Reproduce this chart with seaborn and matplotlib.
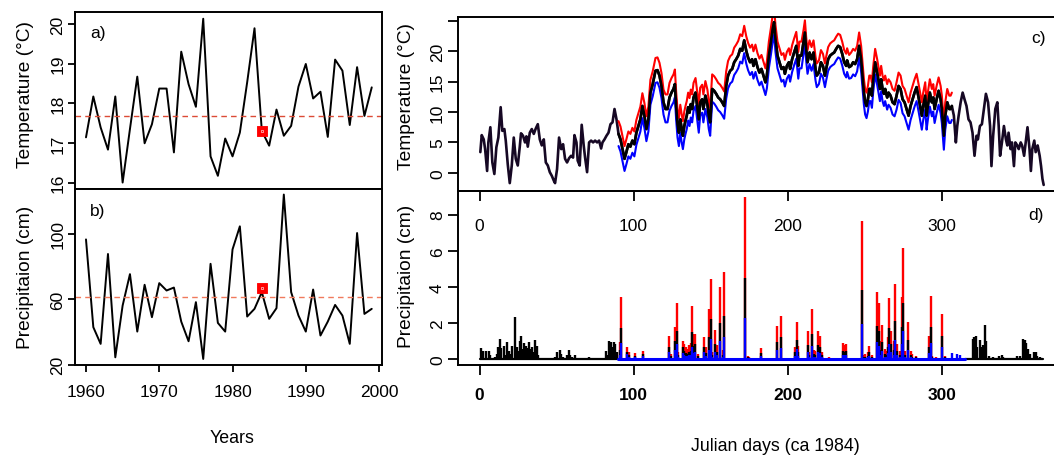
import numpy as np
import pandas as pd
import matplotlib
matplotlib.use("Agg")
import matplotlib.pyplot as plt
import seaborn as sns

# ---------------- data: annual series (panels a, b) ----------------
years = list(range(1960, 2000))
temp_annual = [17.14, 18.17, 17.39, 16.83, 18.17, 16.00, 17.35, 18.67, 16.99, 17.47,
               18.37, 18.37, 16.76, 19.30, 18.48, 17.91, 20.13, 16.66, 16.17, 17.11,
               16.66, 17.26, 18.53, 19.89, 17.30, 16.93, 17.84, 17.18, 17.43, 18.42,
               18.99, 18.12, 18.29, 17.15, 19.10, 18.82, 17.45, 18.91, 17.68, 18.40]
precip_annual = [96.5, 42.9, 32.7, 87.6, 24.5, 56.1, 75.3, 40.2, 68.8, 49.0,
                 69.8, 65.3, 67.1, 46.3, 34.3, 58.2, 23.5, 81.6, 45.5, 40.2,
                 90.4, 104.5, 49.4, 54.1, 64.3, 48.0, 54.5, 123.9, 64.3, 50.0,
                 40.2, 65.9, 37.8, 46.3, 56.5, 50.0, 32.7, 100.4, 51.0, 54.1]
temp_mean_line = 17.67
precip_mean_line = 61.2
focus_year = 1984
focus_temp = 17.30
focus_precip = 66.9

# ---------------- data: daily temperature 1984 (panel c) ----------------
temp_day = [0.5, 1.4, 2.7, 3.6, 4.9, 5.7, 7.0, 8.3, 9.6, 10.9, 12.2, 13.7, 14.8, 16.1, 17.0,
            18.3, 19.6, 20.9, 22.2, 23.5, 24.8, 26.1, 26.9, 28.2, 29.5, 30.4, 31.3, 32.6,
            33.9, 35.2, 36.5, 37.8, 39.1, 40.4, 41.7, 43.0, 44.3, 45.6, 46.9, 48.2, 49.0,
            50.3, 51.6, 53.0, 54.2, 55.5, 56.8, 58.1, 59.4, 60.7, 61.6, 62.9, 63.7, 65.0,
            66.3, 67.6, 68.5, 69.8, 71.1, 72.4, 73.7, 75.0, 76.3, 77.6, 78.9, 79.8, 81.1,
            82.4, 83.7, 85.0, 86.3, 87.6, 88.9, 90.2, 91.5, 92.8, 94.1, 95.3, 96.6, 97.9,
            99.2, 100.5, 101.8, 103.1, 104.4, 105.7, 107.0, 108.3, 109.6, 110.9,
            112.4, 114.2, 115.5, 116.8, 118.1, 119.4, 120.7, 122.0, 123.3, 124.6, 125.9,
            126.8, 127.6, 128.5, 129.4, 130.3, 131.2, 132.0, 132.9, 133.7, 134.5, 135.4,
            136.3, 137.1, 138.0, 138.9, 140.2, 141.5, 142.3, 143.2, 144.5, 145.3, 146.6,
            147.9, 148.8, 149.7, 151.0, 152.3, 153.6, 154.9, 156.2, 157.5, 158.8, 160.1,
            161.3, 162.7, 164.0, 165.3, 166.6, 167.9, 169.2, 170.5, 171.8, 173.1, 174.3,
            175.6, 176.9, 177.8, 179.1, 180.4, 181.7, 183.0, 184.3, 185.6, 186.5, 187.8,
            189.1, 190.3, 191.2, 192.1, 193.4, 194.7, 196.0, 197.3, 198.2, 199.5, 200.8,
            201.6, 202.9, 204.2, 205.6, 206.9, 207.7, 209.0, 210.3, 211.2, 212.0, 212.9,
            214.2, 215.5, 216.8, 218.1, 218.9, 220.3, 221.6, 222.9, 224.2, 225.0, 226.3,
            227.6, 229.0, 230.2, 231.5, 232.8, 234.1, 235.4, 236.7, 238.0,
            238.6, 239.9, 241.2, 242.5, 243.8, 245.1, 246.4, 247.7, 248.6, 249.5, 250.3,
            251.2, 252.1, 253.0, 253.8, 254.7, 255.5, 256.8, 258.1, 259.0, 259.9, 260.7,
            261.6, 262.5, 263.3, 264.6, 265.5, 266.8, 268.1, 269.4, 270.7, 272.0, 273.3,
            274.6, 275.9, 277.2, 278.5, 279.8, 281.1, 282.4, 283.7, 285.0, 286.3, 287.1,
            288.0, 289.3, 290.2, 291.0, 292.3, 293.6, 294.5, 295.4, 296.7, 298.0, 299.3,
            300.1, 301.4, 302.3, 303.6, 304.9, 305.8, 306.6, 307.9, 309.2, 310.1, 311.0,
            312.3, 313.6, 314.8, 316.1, 317.4, 318.7, 320.0, 321.3, 322.6, 323.5, 324.8,
            326.1, 327.4, 328.7, 330.1, 331.4, 332.3, 333.4, 334.8, 336.1, 337.0, 337.9,
            339.1, 340.4, 341.7, 342.6, 343.4, 344.7, 345.6, 346.9, 347.8, 349.1, 350.0,
            351.3, 352.2, 353.5, 354.8, 355.7, 357.0, 357.9, 358.8, 360.1, 361.0, 362.3,
            363.6, 364.5, 365.4, 366.2]
temp_obs = [3.4, 6.2, 5.5, 3.9, 0.3, 5.0, 7.5, 1.7, -0.2, 4.2, 5.8, 10.8, 6.9, 7.2, 5.3,
            1.4, -1.7, 1.2, 5.8, 2.3, 1.2, 4.3, 6.5, 6.1, 5.0, 6.0, 4.3, 6.6,
            7.2, 6.4, 7.3, 8.0, 5.5, 4.5, 5.5, 1.7, 1.2, 0.1, -0.5, -1.3, -1.7,
            0.6, 5.8, 3.9, 4.7, 2.3, 1.7, 2.4, 2.8, 2.5, 6.2, 5.0, 2.0, 1.2,
            7.9, 4.5, 2.5, 0.1, 5.0, 5.3, 5.0, 5.3, 5.0, 5.3, 4.0, 5.0, 5.5,
            6.1, 6.6, 8.0, 8.3, 10.5, 8.8, 6.4, 5.5, 3.9, 2.3, 3.4, 4.7, 4.3,
            5.3, 4.7, 6.6, 7.7, 8.8, 11.0, 9.4, 7.2, 8.8, 13.2,
            14.6, 16.8, 16.9, 16.0, 14.3, 11.6, 10.5, 10.5, 12.4, 13.2, 13.8,
            14.6, 11.0, 8.0, 6.6, 8.8, 7.2, 6.1, 7.7, 8.6, 9.4, 10.8,
            9.9, 11.3, 10.5, 12.4, 13.2, 10.5, 8.8, 11.6, 12.1, 10.5, 12.7,
            11.3, 9.4, 8.3, 13.8, 13.5, 13.0, 12.4, 12.1, 11.6, 11.0, 14.3,
            16.0, 16.8, 17.1, 18.2, 18.7, 19.3, 20.4, 20.1, 21.8, 20.1, 19.0,
            18.2, 18.7, 17.6, 18.7, 17.4, 16.5, 17.1, 16.0, 14.9, 16.0, 19.3,
            21.5, 23.7, 24.8, 22.0, 19.3, 18.2, 17.1, 17.4, 16.3, 17.6, 18.2,
            17.1, 18.7, 19.8, 20.9, 17.6, 19.3, 19.3, 21.5, 23.1, 20.4, 18.2,
            19.8, 18.7, 19.8, 17.1, 16.0, 16.5, 18.2, 17.6, 16.0, 17.1, 18.7,
            19.3, 19.6, 19.8, 20.4, 20.9, 20.7, 19.6, 18.2, 17.6,
            18.5, 17.4, 17.6, 18.2, 17.9, 18.7, 20.9, 18.7, 16.0, 13.2, 11.6,
            11.0, 12.1, 13.8, 13.8, 12.7, 15.2, 18.2, 16.5, 15.2, 13.8, 15.4,
            13.8, 13.0, 13.8, 12.4, 13.2, 12.7, 11.6, 11.3, 12.7, 14.3, 13.8,
            12.1, 11.6, 10.5, 9.4, 11.0, 12.1, 13.2, 14.1, 12.4, 10.5, 9.4,
            11.0, 12.7, 9.4, 11.0, 13.2, 11.6, 12.4, 10.5, 12.1, 13.5, 12.1,
            10.5, 6.1, 9.4, 11.6, 10.5, 10.5, 11.0, 9.4, 5.0, 7.7, 9.4,
            11.6, 13.2, 12.1, 11.0, 8.8, 8.3, 6.6, 2.8, 6.1, 5.5, 7.7,
            8.0, 10.5, 13.0, 11.6, 7.7, 1.1, 6.1, 10.5, 11.6, 7.7, 2.8,
            5.0, 7.7, 5.5, 4.5, 6.6, 3.9, 5.0, 1.1, 5.0, 4.5, 3.9,
            5.0, 4.5, 2.8, 5.5, 7.5, 3.9, 0.3, 3.9, 5.3, 3.4, 4.5,
            2.8, 1.1, -1.0, -2.0]
# scenario window and shifts read from the red / blue curves
temp_scen_first = 90.0
temp_scen_last = 306.6
shift_seg_start = [90, 120, 150, 180, 210, 240, 270]
warm_shift = [2.1, 2.4, 2.4, 2.3, 2.0, 2.2, 2.2]
cool_shift = [-2.0, -2.2, -2.1, -2.1, -1.9, -2.0, -2.3]

# ---------------- data: daily precipitation 1984 (panel d) ----------------
prcp_day_obs = [1, 2, 4, 6, 7, 10, 11, 12, 13, 14, 16, 17, 18, 19, 20, 21, 23, 24, 25, 26,
                27, 28, 29, 30, 31, 32, 33, 34, 35, 36, 37, 38, 49, 50, 52, 53, 54, 57, 58,
                59, 60, 62, 71, 82, 83, 84, 85, 86, 87, 88, 89,
                320, 321, 322, 323, 325, 326, 327, 328, 329, 331, 333, 337, 339, 340,
                349, 351, 353, 354, 355, 356, 357, 360, 361, 362, 364]
prcp_obs = [0.60, 0.45, 0.43, 0.43, 0.24, 0.13, 0.30, 0.65, 1.10, 0.60, 0.75, 0.20, 0.93,
            0.45, 0.30, 0.70, 2.35, 0.65, 0.45, 1.00, 1.25, 0.55, 0.90, 0.72, 0.60, 0.93,
            0.55, 0.65, 0.37, 1.05, 0.70, 0.20, 0.13, 0.37, 0.52, 0.30, 0.13, 0.24, 0.52,
            0.24, 0.13, 0.24, 0.09, 0.45, 0.24, 1.00, 0.93, 0.65, 0.93, 0.83, 0.37,
            1.10, 1.24, 1.30, 0.69, 1.06, 0.65, 0.80, 1.89, 1.02, 0.19, 0.09, 0.19, 0.24,
            0.13, 0.19, 0.19, 1.10, 1.07, 0.87, 0.56, 0.28, 0.37, 0.37, 0.19, 0.09]
prcp_day_scen = [91, 92, 96, 97, 101, 106, 123, 124, 127, 128, 129, 132, 133, 134, 135,
                 136, 137, 138, 139, 140, 142, 146, 147, 149, 150, 151, 153, 154, 156, 158,
                 159, 172, 174, 175, 183, 193, 196, 205, 206, 207, 213, 214, 216, 217, 218,
                 220, 221, 222, 227, 236, 237, 238, 248, 249, 250, 252, 253, 255, 258, 259,
                 260, 261, 263, 264, 265, 266, 267, 269, 270, 271, 273, 274, 275, 276, 278,
                 280, 281, 283, 292, 293, 294, 296, 300, 302, 307, 310, 312]
prcp_wet = [0.95, 3.43, 0.69, 0.37, 0.31, 0.43, 1.30, 0.28, 1.80, 3.10, 0.37, 1.00, 0.83,
            0.65, 0.56, 0.80, 0.87, 2.96, 1.39, 1.39, 0.28, 1.20, 0.65, 2.80, 4.44, 0.37,
            1.63, 0.80, 4.00, 0.50, 4.80, 9.00, 0.19, 0.13, 0.61, 1.85, 2.41, 0.69, 2.07,
            0.74, 1.57, 0.37, 2.78, 0.52, 0.46, 1.54, 1.30, 0.37, 0.13, 0.87, 0.80, 0.83,
            7.63, 0.22, 0.28, 0.37, 0.72, 0.22, 3.70, 3.10, 1.00, 1.90, 0.55, 0.46, 1.20,
            3.39, 1.57, 1.00, 4.17, 0.83, 0.46, 3.43, 6.15, 0.46, 2.07, 0.46, 0.28, 0.19,
            1.30, 3.52, 0.19, 0.13, 2.50, 0.17, 0.0, 0.0, 0.0]
prcp_mid = [0.50, 1.72, 0.37, 0.20, 0.17, 0.28, 0.65, 0.15, 1.00, 1.57, 0.20, 0.65, 0.45,
            0.35, 0.30, 0.40, 0.45, 1.48, 0.70, 0.83, 0.15, 0.65, 0.35, 1.20, 2.22, 0.20,
            0.83, 0.40, 2.00, 0.25, 2.40, 4.48, 0.10, 0.07, 0.31, 0.93, 1.20, 0.37, 1.06,
            0.37, 0.78, 0.20, 1.39, 0.28, 0.23, 0.78, 0.65, 0.20, 0.07, 0.46, 0.40, 0.43,
            3.83, 0.11, 0.14, 0.18, 0.37, 0.11, 1.85, 1.57, 0.50, 0.93, 0.28, 0.23, 0.65,
            1.70, 0.83, 0.50, 2.09, 0.42, 0.23, 1.76, 3.09, 0.23, 1.06, 0.23, 0.14, 0.10,
            0.65, 1.76, 0.10, 0.07, 1.28, 0.09, 0.0, 0.0, 0.0]
prcp_dry = [0.25, 0.90, 0.28, 0.10, 0.10, 0.18, 0.37, 0.07, 0.50, 0.83, 0.10, 0.33, 0.25,
            0.18, 0.15, 0.20, 0.22, 0.69, 0.35, 0.37, 0.07, 0.37, 0.18, 0.50, 1.10, 0.10,
            0.37, 0.20, 1.00, 0.12, 1.20, 2.28, 0.05, 0.03, 0.19, 0.50, 0.61, 0.19, 0.56,
            0.19, 0.41, 0.10, 0.70, 0.14, 0.12, 0.37, 0.33, 0.10, 0.03, 0.22, 0.20, 0.22,
            1.94, 0.06, 0.07, 0.09, 0.19, 0.06, 0.93, 0.74, 0.25, 0.46, 0.14, 0.12, 0.33,
            0.83, 0.41, 0.25, 1.06, 0.21, 0.12, 0.83, 1.57, 0.12, 0.52, 0.12, 0.07, 0.05,
            0.33, 0.87, 0.05, 0.03, 0.65, 0.04, 0.31, 0.28, 0.24]
prcp_first_day = 0.3
prcp_scen_first = 90
prcp_scen_last = 315
prcp_last_day = 366

# ---------------- style ----------------
sns.set_theme(style="ticks", rc={
    "axes.edgecolor": "black", "axes.linewidth": 1.4,
    "xtick.color": "black", "ytick.color": "black",
    "xtick.major.width": 1.3, "ytick.major.width": 1.3,
    "text.color": "black", "axes.labelcolor": "black",
})
plt.rcParams["font.family"] = ["Liberation Sans", "DejaVu Sans"]

W, H = 1054, 456
fig = plt.figure(figsize=(W / 100, H / 100), dpi=100)


def ax_px(l, t, r, b):
    return fig.add_axes([l / W, 1 - b / H, (r - l) / W, (b - t) / H])


ax_a = ax_px(75, 13, 382, 189.5)
ax_b = ax_px(75, 189.5, 382, 366)
ax_d = ax_px(458, 192, 1056, 366)
ax_c = ax_px(458, 18, 1056, 192)
ax_c.set_zorder(3)
ax_c.patch.set_alpha(0)

TICK = 12.5
LAB = 13.8
XLAB = 12.8

# ---- panel a ----
sns.lineplot(x=years, y=temp_annual, ax=ax_a, color="black", lw=1.4, estimator=None)
ax_a.axhline(temp_mean_line, color="#dc4b36", lw=1.0, ls=(0, (4, 3)))
sns.scatterplot(x=[focus_year], y=[focus_temp], ax=ax_a, marker="s", s=62,
                color="#ff0000", edgecolor="#ff0000", zorder=5)
sns.scatterplot(x=[focus_year], y=[focus_temp], ax=ax_a, marker="s", s=3,
                facecolor="none", edgecolor="#ffd0d0", linewidth=0.5, zorder=6)
ax_a.set_xlim(1958.5, 2000.4)
ax_a.set_ylim(15.85, 20.30)
ax_a.set_xticks([])
ax_a.set_yticks([16, 17, 18, 19, 20])
ax_a.text(0.075, 0.884, "a)", transform=ax_a.transAxes, ha="center", va="center", fontsize=12.5)
ax_a.set_ylabel("Temperature (\u00b0C)", fontsize=LAB)
ax_a.yaxis.set_label_coords(-0.132, 0.538)

# ---- panel b ----
sns.lineplot(x=years, y=precip_annual, ax=ax_b, color="black", lw=1.4, estimator=None)
ax_b.axhline(precip_mean_line, color="#f07a5c", lw=1.0, ls=(0, (4, 3)))
sns.scatterplot(x=[focus_year], y=[focus_precip], ax=ax_b, marker="s", s=62,
                color="#ff0000", edgecolor="#ff0000", zorder=5)
sns.scatterplot(x=[focus_year], y=[focus_precip], ax=ax_b, marker="s", s=3,
                facecolor="none", edgecolor="#ffd0d0", linewidth=0.5, zorder=6)
ax_b.set_xlim(1958.5, 2000.4)
ax_b.set_ylim(19.8, 127.6)
ax_b.set_xticks([1960, 1970, 1980, 1990, 2000])
ax_b.set_yticks([20, 60, 100])
ax_b.text(0.075, 0.873, "b)", transform=ax_b.transAxes, ha="center", va="center", fontsize=12.5)
ax_b.set_ylabel("Precipitaion (cm)", fontsize=LAB)
ax_b.yaxis.set_label_coords(-0.132, 0.5)
ax_b.set_xlabel("")

for ax in (ax_a, ax_b):
    ax.tick_params(axis="y", length=5, pad=2.0, labelsize=TICK, labelrotation=90)
    ax.tick_params(axis="x", length=5, pad=9.0, labelsize=TICK)
    for lab in ax.get_yticklabels():
        lab.set_va("center")

# ---- panel c ----
df_t = pd.DataFrame({"day": temp_day, "obs": temp_obs})
scen = (df_t["day"] >= temp_scen_first) & (df_t["day"] <= temp_scen_last)
seg = np.searchsorted(shift_seg_start, df_t["day"].to_numpy(), side="right") - 1
seg = np.clip(seg, 0, len(shift_seg_start) - 1)
df_s = df_t[scen].copy()
df_s["warm"] = df_s["obs"] + np.array(warm_shift)[seg[scen.to_numpy()]]
df_s["cool"] = df_s["obs"] + np.array(cool_shift)[seg[scen.to_numpy()]]

sns.lineplot(data=df_t, x="day", y="obs", ax=ax_c, color="#160824", lw=1.9,
             estimator=None, sort=False)
sns.lineplot(data=df_s, x="day", y="warm", ax=ax_c, color="#ff0000", lw=1.5,
             estimator=None, sort=False)
sns.lineplot(data=df_s, x="day", y="cool", ax=ax_c, color="#0000ff", lw=1.5,
             estimator=None, sort=False)
sns.lineplot(data=df_s, x="day", y="obs", ax=ax_c, color="black", lw=1.9,
             estimator=None, sort=False)
ax_c.set_xlim(-14, 374.2)
ax_c.set_ylim(-3.0, 25.65)
ax_c.set_yticks([0, 5, 10, 15, 20, 25])
ax_c.set_yticklabels(["0", "5", "10", "15", "20", ""])
ax_c.set_xticks([0, 100, 200, 300])
ax_c.set_xlabel("")
ax_c.set_ylabel("Temperature (\u00b0C)", fontsize=LAB)
ax_c.yaxis.set_label_coords(-0.0719, 0.546)
ax_c.tick_params(axis="x", length=7.2, pad=12.0, labelsize=TICK)
ax_c.spines["right"].set_visible(False)

# ---- panel d ----
ax_d.vlines(prcp_day_scen, 0, prcp_wet, color="#ff0000", lw=1.7)
ax_d.vlines(prcp_day_scen, 0, prcp_mid, color="black", lw=1.7)
ax_d.vlines(prcp_day_scen, 0, prcp_dry, color="#0000ff", lw=1.7)
ax_d.vlines(prcp_day_obs, 0, prcp_obs, color="black", lw=1.7)
sns.lineplot(x=[prcp_first_day, prcp_scen_first], y=[0, 0], ax=ax_d, color="black", lw=1.6)
sns.lineplot(x=[prcp_scen_last, prcp_last_day], y=[0, 0], ax=ax_d, color="black", lw=1.6)
sns.lineplot(x=[prcp_scen_first, prcp_scen_last], y=[0, 0], ax=ax_d, color="#0000ff", lw=2.2)
ax_d.set_xlim(-14, 374.2)
ax_d.set_ylim(-0.33, 9.31)
ax_d.set_yticks([0, 2, 4, 6, 8])
ax_d.set_xticks([0, 100, 200, 300])
ax_d.set_ylabel("Precipitaion (cm)", fontsize=LAB)
ax_d.yaxis.set_label_coords(-0.0719, 0.517)
ax_d.tick_params(axis="x", length=7.2, pad=9.0, labelsize=TICK)
for lab in ax_d.get_xticklabels():
    lab.set_fontweight("bold")
ax_d.spines["right"].set_visible(False)

for ax in (ax_c, ax_d):
    ax.tick_params(axis="y", length=7.4, pad=2.0, labelsize=TICK, labelrotation=90)
    for lab in ax.get_yticklabels():
        lab.set_va("center")

fig.text(1046 / W, 1 - 39 / H, "c)", ha="right", va="center", fontsize=12.5)
fig.text(1044 / W, 1 - 216 / H, "d)", ha="right", va="center", fontsize=12.5)
fig.text(232 / W, 1 - 439 / H, "Years", ha="center", va="center", fontsize=XLAB)
fig.text(775 / W, 1 - 447 / H, "Julian days (ca 1984)", ha="center", va="center", fontsize=XLAB)

fig.savefig("out.png", dpi=100)
